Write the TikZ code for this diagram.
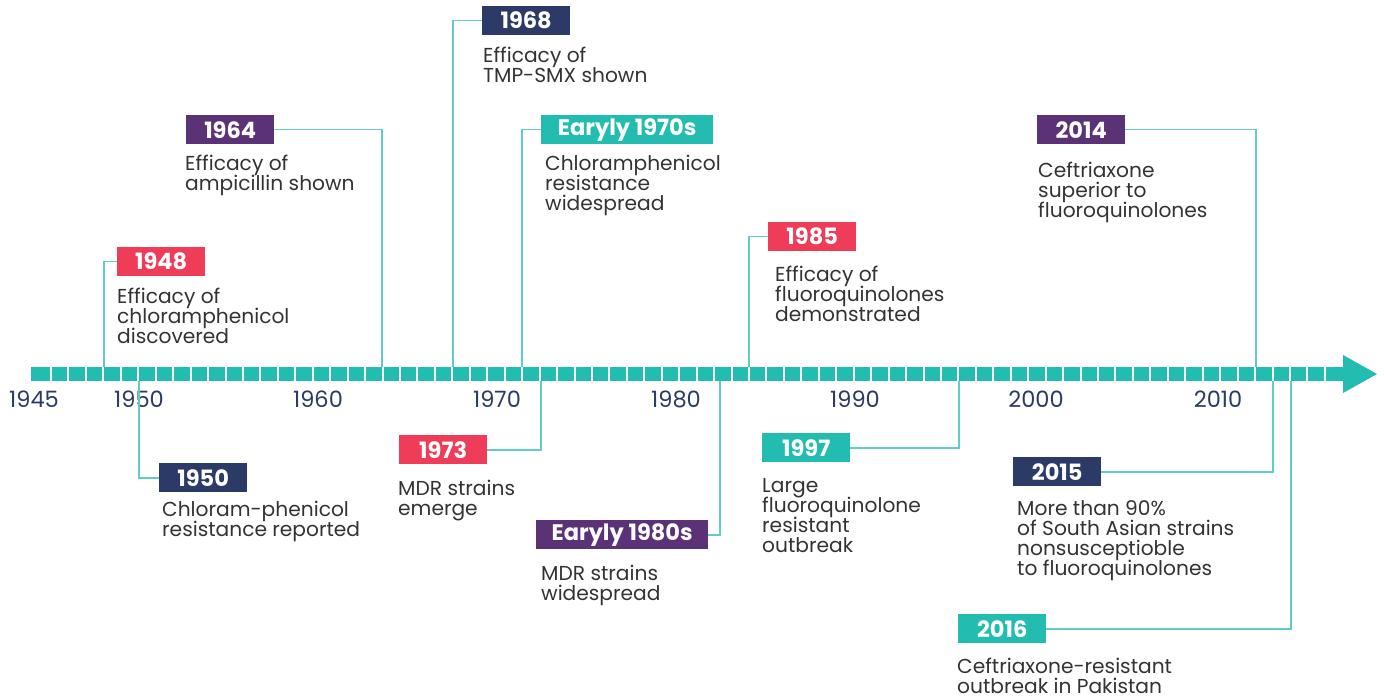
\documentclass[tikz,border=0pt]{standalone}
\usepackage{fontspec}
\setmainfont{Poppins}
\definecolor{barteal}{HTML}{22BDB0}
\definecolor{lineteal}{HTML}{5FCFC6}
\definecolor{navy}{HTML}{2B3A67}
\definecolor{plum}{HTML}{5B3276}
\definecolor{rose}{HTML}{EF3C58}
\definecolor{txtgray}{HTML}{333333}
\newcommand\desctight{\lineskiplimit=-30pt\relax\lineskip=0pt\relax}
\tikzset{
  yearbox/.style={minimum width=88pt, minimum height=29pt, inner sep=0pt, anchor=north west,
    text=white, font=\bfseries\fontsize{22.5}{22.5}\selectfont},
  widebox/.style={yearbox, minimum width=172pt},
  desc/.style={anchor=north west, inner sep=0pt, align=left, text=txtgray,
    font=\fontsize{20.2}{20}\selectfont\desctight},
  tick/.style={text=navy, inner sep=0pt, font=\fontsize{22.5}{22.5}\selectfont},
  conn/.style={draw=lineteal, line width=1.6pt}
}
\begin{document}
\begin{tikzpicture}[x=1pt,y=-1pt]
\useasboundingbox[fill=white] (0,0) rectangle (1384,700);
% timeline bar
\fill[barteal] (31,367) rectangle (1344,381);
\foreach \k in {0,...,73} \fill[white] ({50+\k*17.45},366) rectangle ({52+\k*17.45},382);
\fill[barteal] (1343,355) -- (1377,374) -- (1343,393) -- cycle;
% year ticks
\node[tick] (t1945) at (34,399) {1945};
\node[tick] (t1950) at (139,399) {1950};
\node[tick] (t1960) at (318,399) {1960};
\node[tick] (t1970) at (497,399) {1970};
\node[tick] (t1980) at (676,399) {1980};
\node[tick] (t1990) at (855,399) {1990};
\node[tick] (t2000) at (1036,399) {2000};
\node[tick] (t2010) at (1218,399) {2010};
% anchor points on bar
\coordinate (c1948) at (104,367);
\coordinate (c1964) at (382,367);
\coordinate (c1968) at (453,367);
\coordinate (c1970s) at (522,367);
\coordinate (c1985) at (749,367);
\coordinate (c2014) at (1256,367);
\coordinate (c1950) at (139,381);
\coordinate (c1973) at (541,381);
\coordinate (c1980s) at (720,381);
\coordinate (c1997) at (959,381);
\coordinate (c2015) at (1273,381);
\coordinate (c2016) at (1291,381);
% above
\node[yearbox, fill=rose] (b1948) at (117,247) {1948};
\node[desc] (d1948) at (117,288) {Efficacy of\\chloramphenicol\\discovered};
\node[yearbox, fill=plum] (b1964) at (186,115) {1964};
\node[desc] (d1964) at (185,155) {Efficacy of\\ampicillin shown};
\node[yearbox, fill=navy] (b1968) at (482,6) {1968};
\node[desc] (d1968) at (483,47) {Efficacy of\\TMP-SMX shown};
\node[widebox, fill=barteal] (b1970s) at (541,115) {Earyly 1970s};
\node[desc] (d1970s) at (545,155) {Chloramphenicol\\resistance\\widespread};
\node[yearbox, fill=rose] (b1985) at (768,222) {1985};
\node[desc] (d1985) at (775,266) {Efficacy of\\fluoroquinolones\\demonstrated};
\node[yearbox, fill=plum] (b2014) at (1037,115) {2014};
\node[desc] (d2014) at (1038,162) {Ceftriaxone\\superior to\\fluoroquinolones};
% below
\node[yearbox, fill=navy] (b1950) at (159,463) {1950};
\node[desc] (d1950) at (162,501) {Chloram-phenicol\\resistance reported};
\node[yearbox, fill=rose] (b1973) at (399,435) {1973};
\node[desc] (d1973) at (398,480) {MDR strains\\emerge};
\node[widebox, fill=plum] (b1980s) at (536,520) {Earyly 1980s};
\node[desc] (d1980s) at (541,565) {MDR strains\\widespread};
\node[yearbox, fill=barteal] (b1997) at (762,433) {1997};
\node[desc] (d1997) at (762,478) {Large\\fluoroquinolone\\resistant\\outbreak};
\node[yearbox, fill=navy] (b2015) at (1013,457) {2015};
\node[desc] (d2015) at (1017,500) {More than 90\%\\of South Asian strains\\nonsusceptioble\\to fluoroquinolones};
\node[yearbox, fill=barteal] (b2016) at (958,614) {2016};
\node[desc] (d2016) at (957,658) {Ceftriaxone-resistant\\outbreak in Pakistan};
% connectors
\draw[conn] (b1948.west) -| (c1948);
\draw[conn] (b1964.east) -| (c1964);
\draw[conn] (b1968.west) -| (c1968);
\draw[conn] (b1970s.west) -| (c1970s);
\draw[conn] (b1985.west) -| (c1985);
\draw[conn] (b2014.east) -| (c2014);
\draw[conn] (b1950.west) -| (c1950);
\draw[conn] (b1973.east) -| (c1973);
\draw[conn] (b1980s.east) -| (c1980s);
\draw[conn] (b1997.east) -| (c1997);
\draw[conn] (b2015.east) -| (c2015);
\draw[conn] (b2016.east) -| (c2016);
\end{tikzpicture}
\end{document}
